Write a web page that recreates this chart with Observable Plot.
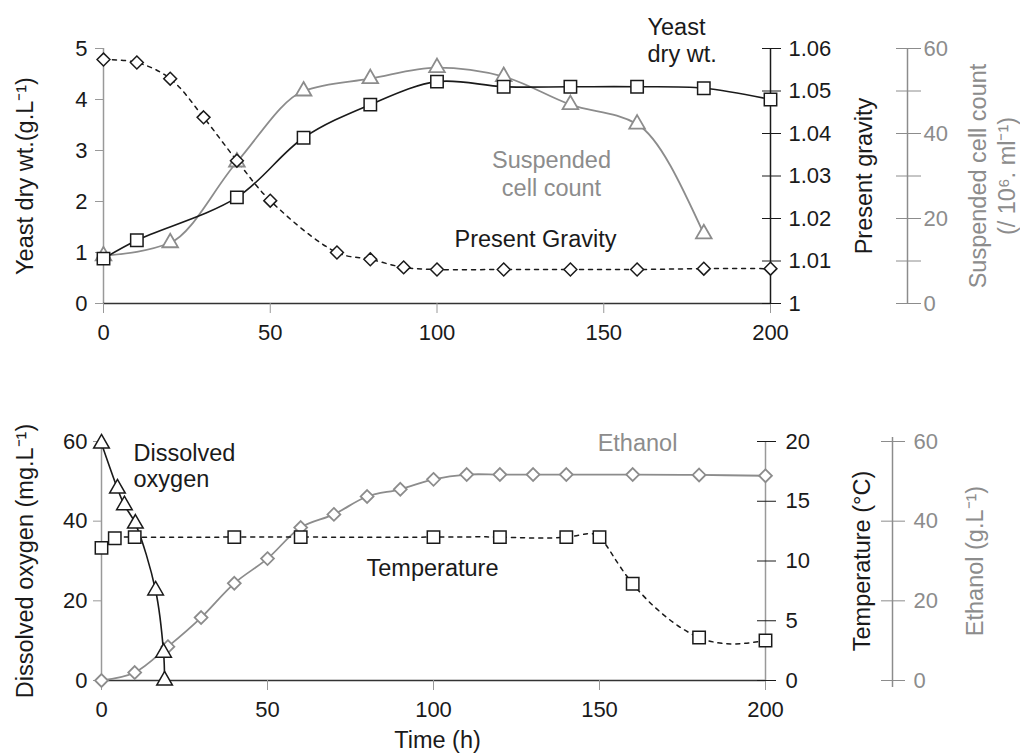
<!DOCTYPE html>
<html>
<head>
<meta charset="utf-8">
<script src="https://cdn.jsdelivr.net/npm/d3@7"></script>
<script src="https://cdn.jsdelivr.net/npm/@observablehq/plot@0.6"></script>
<style>
  html, body { margin: 0; padding: 0; background: #fff; }
  #chart svg { display: block; }
</style>
</head>
<body>
<div id="chart"></div>
<script>
// ---------- Data (top panel) ----------
const yeastTime = [0, 10, 40, 60, 80, 100, 120, 140, 160, 180, 200];
const yeastDryWt = [0.88, 1.24, 2.08, 3.25, 3.9, 4.35, 4.25, 4.25, 4.25, 4.22, 4.0];

const gravityTime = [0, 10, 20, 30, 40, 50, 70, 80, 90, 100, 120, 140, 160, 180, 200];
const presentGravity = [1.0574, 1.0567, 1.0529, 1.0438, 1.0336, 1.0242, 1.012, 1.0104, 1.0085, 1.008, 1.008, 1.008, 1.008, 1.0082, 1.0082];

const cellTime = [0, 20, 40, 60, 80, 100, 120, 140, 160, 180];
const cellCount = [11.2, 14.3, 33.3, 50, 52.9, 55.5, 53.4, 46.8, 42.2, 16.4];

const yeastTicks = [0, 1, 2, 3, 4, 5];
const gravityTicks = [1, 1.01, 1.02, 1.03, 1.04, 1.05, 1.06];
const gravityTickLabels = ["1", "1.01", "1.02", "1.03", "1.04", "1.05", "1.06"];
const cellTicks = [0, 10, 20, 30, 40, 50, 60];

// ---------- Data (bottom panel) ----------
const oxygenTime = [0, 4.8, 6.9, 10.2, 16.3, 18.7, 19];
const dissolvedOxygen = [59.5, 48.2, 44, 39.4, 22.6, 7, 0];

const tempTime = [0, 4, 10, 40, 60, 100, 120, 140, 150, 160, 180, 200];
const temperature = [11.1, 11.9, 12, 12, 12, 12, 12, 12, 12, 8.1, 3.6, 3.35];

const ethanolTime = [0, 10, 20, 30, 40, 50, 60, 70, 80, 90, 100, 110, 120, 130, 140, 160, 180, 200];
const ethanol = [0, 2, 8.5, 15.8, 24.4, 30.6, 38.4, 41.7, 46.2, 48, 50.5, 51.7, 51.7, 51.7, 51.7, 51.7, 51.6, 51.4];

const oxygenTicks = [0, 20, 40, 60];
const tempTicks = [0, 5, 10, 15, 20];
const ethanolTicks = [0, 20, 40, 60];
const timeTicks = [0, 50, 100, 150, 200];

// ---------- Styling ----------
const FONT = "Liberation Sans, Arial, Helvetica, sans-serif";
const DARK = "#1a1a1a";
const GRAY = "#8c8c8c";
const AXGRAY = "#999";
const TICKFS = 22;
const LABELFS = 23.5;

// Transforms into the primary (left) axis units
const gravToY = g => (g - 1) * 5 / 0.06;
const cellToY = c => c * 5 / 60;
const tempToY = t => t * 3;

const yeastData = yeastTime.map((t, i) => ({t, v: yeastDryWt[i]}));
const gravityData = gravityTime.map((t, i) => ({t, v: gravToY(presentGravity[i])}));
const cellData = cellTime.map((t, i) => ({t, v: cellToY(cellCount[i])}));

const oxygenData = oxygenTime.map((t, i) => ({t, v: dissolvedOxygen[i]}));
const tempData = tempTime.map((t, i) => ({t, v: tempToY(temperature[i])}));
const ethData = ethanolTime.map((t, i) => ({t, v: ethanol[i]}));

const topChart = Plot.plot({
  width: 1020,
  height: 375,
  marginLeft: 103,
  marginRight: 250,
  marginTop: 48,
  marginBottom: 72,
  style: {fontFamily: FONT, color: DARK, background: "#fff", overflow: "visible"},
  x: {domain: [0, 200], label: null},
  y: {domain: [0, 5], label: null},
  marks: [
    // axes
    Plot.ruleX([0], {stroke: AXGRAY, strokeWidth: 1.5}),
    Plot.ruleY([0], {stroke: "#333", strokeWidth: 1.5}),
    Plot.ruleX([200], {stroke: DARK, strokeWidth: 1.5}),
    Plot.ruleX([200], {stroke: GRAY, strokeWidth: 1.5, dx: 137}),
    Plot.axisX({ticks: timeTicks, tickSize: 10, tickPadding: 11, stroke: AXGRAY, fill: DARK, fontSize: TICKFS, label: null}),
    Plot.axisY({anchor: "left", ticks: yeastTicks, tickFormat: d => String(d), tickSize: 8, tickPadding: 8, stroke: AXGRAY, fill: DARK, fontSize: TICKFS, label: null}),
    Plot.axisY({anchor: "right", ticks: gravityTicks.map(gravToY), tickFormat: (d, i) => gravityTickLabels[i],
      tickSize: 19, dx: -9, tickPadding: 8, stroke: DARK, fill: DARK, fontSize: TICKFS, label: null}),
    Plot.axisY({anchor: "right", ticks: cellTicks.map(cellToY), tickFormat: (d, i) => (cellTicks[i] % 20 === 0 ? String(cellTicks[i]) : ""),
      tickSize: 25, dx: 125, tickPadding: 3, stroke: GRAY, fill: GRAY, fontSize: TICKFS, label: null}),
    // series lines
    Plot.line(cellData, {x: "t", y: "v", stroke: GRAY, strokeWidth: 1.8, curve: "monotone-x"}),
    Plot.line(gravityData, {x: "t", y: "v", stroke: DARK, strokeWidth: 1.5, strokeDasharray: "4,5", curve: "catmull-rom"}),
    Plot.line(yeastData, {x: "t", y: "v", stroke: DARK, strokeWidth: 1.6, curve: "catmull-rom"}),
    // markers
    Plot.dot(cellData, {x: "t", y: "v", symbol: "triangle", r: 5.8, fill: "#fff", stroke: GRAY, strokeWidth: 1.8}),
    Plot.dot(gravityData, {x: "t", y: "v", symbol: "diamond2", r: 5.8, fill: "#fff", stroke: DARK, strokeWidth: 1.5}),
    Plot.dot(yeastData, {x: "t", y: "v", symbol: "square", r: 7, fill: "#fff", stroke: DARK, strokeWidth: 1.5}),
    // annotations
    Plot.text(["Yeast\ndry wt."], {frameAnchor: "top-left", dx: 544, dy: -32.7, textAnchor: "start", lineAnchor: "top", lineHeight: 1.15, fontSize: LABELFS, fill: DARK}),
    Plot.text(["Suspended\ncell count"], {frameAnchor: "top-left", dx: 448, dy: 99.3, textAnchor: "middle", lineAnchor: "top", lineHeight: 1.19, fontSize: LABELFS, fill: GRAY}),
    Plot.text(["Present Gravity"], {frameAnchor: "top-left", dx: 432, dy: 182.3, textAnchor: "middle", lineAnchor: "top", fontSize: LABELFS, fill: DARK}),
    // axis titles
    Plot.text(["Yeast dry wt.(g.L\u207B\u00B9)"], {frameAnchor: "left", dx: -78, rotate: -90, textAnchor: "middle", lineAnchor: "middle", fontSize: LABELFS, fill: DARK}),
    Plot.text(["Present gravity"], {frameAnchor: "right", dx: 94, rotate: -90, textAnchor: "middle", lineAnchor: "middle", fontSize: LABELFS, fill: DARK}),
    Plot.text(["Suspended cell count\n(/ 10\u2076. ml\u207B\u00B9)"], {frameAnchor: "right", dx: 221, rotate: -90, textAnchor: "middle", lineAnchor: "middle", lineHeight: 1.21, fontSize: LABELFS, fill: GRAY})
  ]
});

const bottomChart = Plot.plot({
  width: 1020,
  height: 378,
  marginLeft: 101,
  marginRight: 255,
  marginTop: 66,
  marginBottom: 73,
  style: {fontFamily: FONT, color: DARK, background: "#fff", overflow: "visible"},
  x: {domain: [0, 200], label: null},
  y: {domain: [0, 60], label: null},
  marks: [
    Plot.ruleX([0], {stroke: AXGRAY, strokeWidth: 1.5}),
    Plot.ruleY([0], {stroke: "#333", strokeWidth: 1.5}),
    Plot.ruleX([200], {stroke: AXGRAY, strokeWidth: 1.5}),
    Plot.ruleX([200], {stroke: GRAY, strokeWidth: 1.5, dx: 127, insetTop: -4, insetBottom: -7}),
    Plot.axisX({ticks: timeTicks, tickSize: 10, tickPadding: 11, stroke: AXGRAY, fill: DARK, fontSize: TICKFS, label: null}),
    Plot.axisY({anchor: "left", ticks: oxygenTicks, tickSize: 8, tickPadding: 6, stroke: AXGRAY, fill: DARK, fontSize: TICKFS, label: null}),
    Plot.axisY({anchor: "right", ticks: tempTicks.map(tempToY), tickFormat: (d, i) => String(tempTicks[i]),
      tickSize: 19, dx: -9, tickPadding: 10, stroke: DARK, fill: DARK, fontSize: TICKFS, label: null}),
    Plot.axisY({anchor: "right", ticks: ethanolTicks, tickSize: 24, dx: 115, tickPadding: 9, stroke: GRAY, fill: GRAY, fontSize: TICKFS, label: null}),
    // series lines
    Plot.line(ethData, {x: "t", y: "v", stroke: GRAY, strokeWidth: 1.8, curve: "catmull-rom"}),
    Plot.line(tempData, {x: "t", y: "v", stroke: DARK, strokeWidth: 1.5, strokeDasharray: "4,5", curve: "natural"}),
    Plot.line(oxygenData, {x: "t", y: "v", stroke: DARK, strokeWidth: 1.6, curve: "catmull-rom"}),
    // markers
    Plot.dot(ethData, {x: "t", y: "v", symbol: "diamond2", r: 5.8, fill: "#fff", stroke: GRAY, strokeWidth: 1.8}),
    Plot.dot(tempData, {x: "t", y: "v", symbol: "square", r: 7, fill: "#fff", stroke: DARK, strokeWidth: 1.5}),
    Plot.dot(oxygenData, {x: "t", y: "v", symbol: "triangle", r: 5.8, fill: "#fff", stroke: DARK, strokeWidth: 1.5}),
    // annotations
    Plot.text(["Dissolved\noxygen"], {frameAnchor: "top-left", dx: 32, dy: 1.3, textAnchor: "start", lineAnchor: "top", lineHeight: 1.1, fontSize: LABELFS, fill: DARK}),
    Plot.text(["Ethanol"], {frameAnchor: "top-left", dx: 536, dy: -6.7, textAnchor: "middle", lineAnchor: "top", fontSize: LABELFS, fill: GRAY}),
    Plot.text(["Temperature"], {frameAnchor: "top-left", dx: 331, dy: 118.3, textAnchor: "middle", lineAnchor: "top", fontSize: LABELFS, fill: DARK}),
    Plot.text(["Time (h)"], {frameAnchor: "bottom", dx: 4, dy: 51.3, textAnchor: "middle", lineAnchor: "top", fontSize: LABELFS, fill: DARK}),
    // axis titles
    Plot.text(["Dissolved oxygen (mg.L\u207B\u00B9)"], {frameAnchor: "left", dx: -76, rotate: -90, textAnchor: "middle", lineAnchor: "middle", fontSize: LABELFS, fill: DARK}),
    Plot.text(["Temperature (\u00B0C)"], {frameAnchor: "right", dx: 97, rotate: -90, textAnchor: "middle", lineAnchor: "middle", fontSize: LABELFS, fill: DARK}),
    Plot.text(["Ethanol (g.L\u207B\u00B9)"], {frameAnchor: "right", dx: 210, rotate: -90, textAnchor: "middle", lineAnchor: "middle", fontSize: LABELFS, fill: GRAY})
  ]
});

document.getElementById("chart").append(topChart, bottomChart);
</script>
</body>
</html>
